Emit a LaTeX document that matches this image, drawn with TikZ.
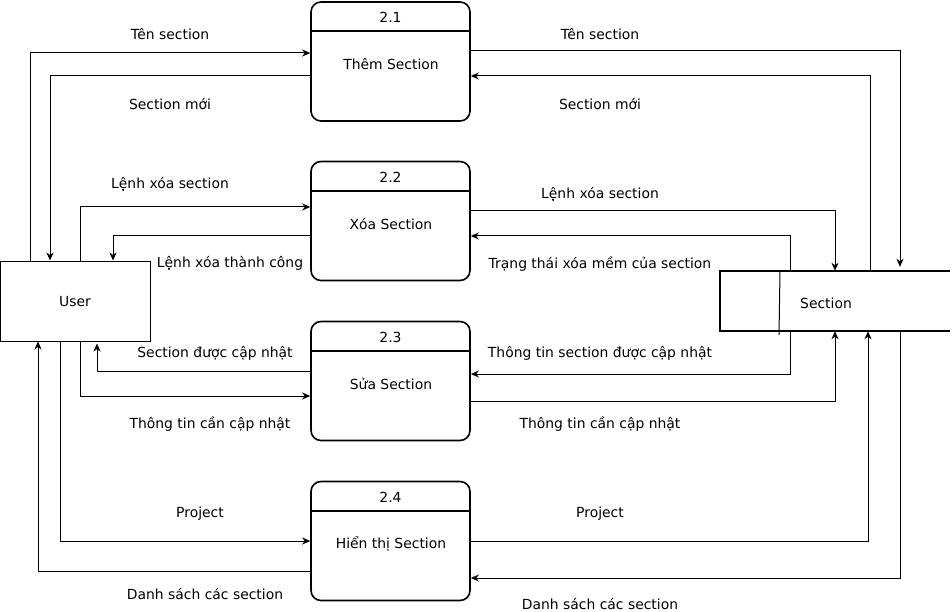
\documentclass[tikz,border=0pt]{standalone}
\usepackage{fontspec}
\setmainfont{DejaVu Sans}
\usetikzlibrary{arrows.meta,calc}
\begin{document}
\begin{tikzpicture}[x=1pt,y=-1pt,
  every node/.style={font=\fontsize{13.9}{16}\selectfont, inner sep=0pt},
  proc/.style={draw, line width=1.6pt, rounded corners=10pt, minimum width=159pt, minimum height=119pt},
  hline/.style={line width=1.6pt},
  flow/.style={draw, line width=1pt, -{Stealth[length=8pt,width=7pt,inset=2.5pt]}},
  lbl/.style={anchor=center, yshift=-0.8pt}]
\useasboundingbox (0,0) rectangle (952,612);

% processes
\node[proc] (p1) at (390.5,61.5) {};
\node[proc] (p2) at (390.5,221) {};
\node[proc] (p3) at (390.5,381) {};
\node[proc] (p4) at (390.5,541) {};
\draw[hline] (p1.west |- 0,31) -- (p1.east |- 0,31);
\draw[hline] (p2.west |- 0,191) -- (p2.east |- 0,191);
\draw[hline] (p3.west |- 0,351) -- (p3.east |- 0,351);
\draw[hline] (p4.west |- 0,511) -- (p4.east |- 0,511);
\node[lbl] (p1n) at (390.5,17) {2.1};
\node[lbl] (p1t) at (391,63) {Thêm Section};
\node[lbl] (p2n) at (390.5,177) {2.2};
\node[lbl] (p2t) at (391,223) {Xóa Section};
\node[lbl] (p3n) at (390.5,337) {2.3};
\node[lbl] (p3t) at (391,383) {Sửa Section};
\node[lbl] (p4n) at (390.5,497) {2.4};
\node[lbl] (p4t) at (391,543) {Hiển thị Section};

% user
\node[draw, line width=1pt, minimum width=150pt, minimum height=80pt] (user) at (75,301) {};
\node[lbl] (usert) at (75,301) {User};

% data store
\node[minimum width=230pt, minimum height=60pt] (store) at (835,301) {};
\draw[hline] (store.north east) -- (store.north west) -- (store.south west) -- (store.south east);
\draw[line width=1pt] (780,0 |- store.north) -- (779,335);
\node[lbl] (storet) at (826,303) {Section};

% left flows
\draw[flow] (30,0 |- user.north) |- (p1.west |- 0,53);
\draw[flow] (p1.west |- 0,76) -| (50,0 |- user.north);
\draw[flow] (80,0 |- user.north) |- (p2.west |- 0,207);
\draw[flow] (p2.west |- 0,236) -| (113,0 |- user.north);
\draw[flow] (p3.west |- 0,371) -| ($(97,0 |- user.south)+(0,2)$);
\draw[flow] (80,0 |- user.south) |- (p3.west |- 0,396);
\draw[flow] (60,0 |- user.south) |- (p4.west |- 0,541);
\draw[flow] (p4.west |- 0,571) -| (38,0 |- user.south);

% right flows
\draw[flow] (p1.east |- 0,51) -| ($(900,0 |- store.north)+(0,-4)$);
\draw[flow] (870,0 |- store.north) |- (p1.east |- 0,76);
\draw[flow] (p2.east |- 0,211) -| (835,0 |- store.north);
\draw[flow] (790,0 |- store.north) |- (p2.east |- 0,236);
\draw[flow] (790,0 |- store.south) |- (p3.east |- 0,374);
\draw[flow] (p3.east |- 0,401) -| (835,0 |- store.south);
\draw[flow] (p4.east |- 0,541) -| (868,0 |- store.south);
\draw[flow] (900,0 |- store.south) |- (p4.east |- 0,578);

% left labels
\node[lbl] (l1) at (170,33) {Tên section};
\node[lbl] (l2) at (170,103) {Section mới};
\node[lbl] (l3) at (170,183) {Lệnh xóa section};
\node[lbl] (l4) at (230,263) {Lệnh xóa thành công};
\node[lbl] (l5) at (215,353) {Section được cập nhật};
\node[lbl] (l6) at (210,423) {Thông tin cần cập nhật};
\node[lbl] (l7) at (200,513) {Project};
\node[lbl] (l8) at (205,593) {Danh sách các section};

% right labels
\node[lbl] (r1) at (600,33) {Tên section};
\node[lbl] (r2) at (600,103) {Section mới};
\node[lbl] (r3) at (600,193) {Lệnh xóa section};
\node[lbl] (r4) at (600,263) {Trạng thái xóa mềm của section};
\node[lbl] (r5) at (600,353) {Thông tin section được cập nhật};
\node[lbl] (r6) at (600,423) {Thông tin cần cập nhật};
\node[lbl] (r7) at (600,513) {Project};
\node[lbl] (r8) at (600,603) {Danh sách các section};
\end{tikzpicture}
\end{document}
